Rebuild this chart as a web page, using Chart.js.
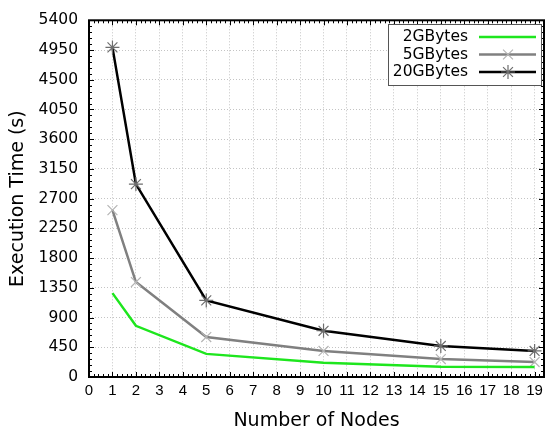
<!DOCTYPE html>
<html>
<head>
<meta charset="utf-8">
<script src="https://cdn.jsdelivr.net/npm/chart.js@4.4.0/dist/chart.umd.min.js"></script>
<style>
html,body{margin:0;padding:0;background:#fff;}
#wrap{width:548px;height:431px;}
</style>
</head>
<body>
<div id="wrap"><canvas id="c" width="548" height="431"></canvas></div>
<script>
const nodes = [1, 2, 5, 10, 15, 19];
const gb2 = [1270, 775, 350, 215, 155, 150];
const gb5 = [2526, 1437, 605, 395, 272, 227];
const gb20 = [4990, 2920, 1160, 700, 470, 395];
const seriesLabels = ['2GBytes', '5GBytes', '20GBytes'];
const xTicks = [0,1,2,3,4,5,6,7,8,9,10,11,12,13,14,15,16,17,18,19];
const yTicks = [0, 450, 900, 1350, 1800, 2250, 2700, 3150, 3600, 4050, 4500, 4950, 5400];

const LIB = "'Liberation Sans', Arial, sans-serif";
const DJV = "'DejaVu Sans', sans-serif";

function pts(vals){ return nodes.map((n,i)=>({x:n,y:vals[i]})); }

const framePlugin = {
  id: 'frame',
  afterDatasetsDraw(chart){
    const {ctx, chartArea:a, scales:{x,y}} = chart;
    ctx.save();
    ctx.strokeStyle = '#000';
    ctx.lineWidth = 1;
    ctx.beginPath();
    for(let k=0; k<=97; k++){
      const v = k*0.2;
      const px = Math.round(x.getPixelForValue(v))+0.5;
      const major = k%5===0;
      const len = major?5:3;
      ctx.moveTo(px,a.bottom); ctx.lineTo(px,a.bottom-len);
      ctx.moveTo(px,a.top); ctx.lineTo(px,a.top+len);
    }
    for(let v=0; v<=5400; v+=90){
      const py = Math.round(y.getPixelForValue(v))+0.5;
      const major = v%450===0;
      const len = major?5:3;
      ctx.moveTo(a.left,py); ctx.lineTo(a.left+len,py);
      ctx.moveTo(a.right,py); ctx.lineTo(a.right-len,py);
    }
    ctx.stroke();
    ctx.lineWidth = 2;
    ctx.strokeRect(a.left, a.top, a.right-a.left, a.bottom-a.top);
    // legend
    const lx = 388, ly = 24, lw = 153, lh = 61;
    ctx.fillStyle = '#fff';
    ctx.fillRect(lx, ly, lw, lh);
    ctx.lineWidth = 1;
    ctx.strokeStyle = '#555';
    ctx.strokeRect(lx+0.5, ly+0.5, lw, lh);
    ctx.font = '15.5px ' + DJV;
    ctx.textAlign = 'right';
    ctx.textBaseline = 'middle';
    chart.data.datasets.forEach((ds,i)=>{
      const yy = ly + 13 + i*17.5;
      ctx.fillStyle = '#000';
      ctx.fillText(ds.label, lx+80, yy);
      ctx.strokeStyle = ds.borderColor;
      ctx.lineWidth = 2.5;
      ctx.beginPath(); ctx.moveTo(lx+91, yy); ctx.lineTo(lx+148, yy); ctx.stroke();
      if(ds.pointRadius){
        ctx.strokeStyle = ds.pointBorderColor;
        ctx.fillStyle = ds.pointBorderColor;
        ctx.lineWidth = 1.2;
        Chart.helpers.drawPoint(ctx, {pointStyle: ds.pointStyle, radius: ds.pointRadius, borderWidth: 1.2}, lx+120, yy);
      }
    });
    ctx.restore();
  }
};

new Chart(document.getElementById('c'), {
  type: 'line',
  data: {
    datasets: [
      {label: seriesLabels[0], data: pts(gb2), borderColor: '#1ee61e', borderWidth: 2.5, pointRadius: 0, tension: 0},
      {label: seriesLabels[1], data: pts(gb5), borderColor: '#808080', borderWidth: 2.5, pointStyle: 'crossRot', pointRadius: 7, pointBorderColor: '#b4b4b4', pointBorderWidth: 1.2, pointBackgroundColor: '#b4b4b4', tension: 0},
      {label: seriesLabels[2], data: pts(gb20), borderColor: '#000000', borderWidth: 2.5, pointStyle: 'star', pointRadius: 7, pointBorderColor: '#6e6e6e', pointBorderWidth: 1.2, pointBackgroundColor: '#6e6e6e', tension: 0}
    ]
  },
  options: {
    responsive: false,
    animation: false,
    layout: {autoPadding: false, padding: {left: 0, right: 2, top: 20, bottom: 0}},
    plugins: {legend: {display: false}, tooltip: {enabled: false}},
    scales: {
      x: {
        type: 'linear', min: 0, max: 19.4,
        afterBuildTicks(s){ s.ticks = xTicks.map(v=>({value:v})); },
        afterFit(s){ s.height = 54; },
        grid: {color: '#c4c4c4', lineWidth: 1, drawTicks: false},
        border: {display: false, dash: [1,2]},
        ticks: {font: {family: LIB, size: 15}, color: '#000', padding: 5, maxRotation: 0, autoSkip: false, callback: v => String(v)},
        title: {display: true, text: 'Number of Nodes', font: {family: DJV, size: 19, lineHeight: 1}, color: '#000', padding: {top: 0, bottom: 0}}
      },
      y: {
        min: 0, max: 5400,
        afterBuildTicks(s){ s.ticks = yTicks.map(v=>({value:v})); },
        afterFit(s){ s.width = 89; },
        grid: {color: '#c4c4c4', lineWidth: 1, drawTicks: false},
        border: {display: false, dash: [1,2]},
        ticks: {font: {family: DJV, size: 15.5}, color: '#000', padding: 11, callback: v => String(v)},
        title: {display: true, text: 'Execution Time (s)', font: {family: DJV, size: 19}, color: '#000', padding: {top: 7, bottom: 0}}
      }
    }
  },
  plugins: [framePlugin]
});
</script>
</body>
</html>
